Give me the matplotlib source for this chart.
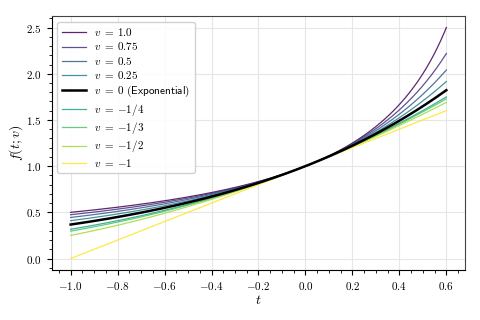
import numpy as np
import matplotlib
matplotlib.use("Agg")
import matplotlib.pyplot as plt
from matplotlib.ticker import AutoMinorLocator, FuncFormatter

plt.rcParams['mathtext.fontset'] = 'cm'
plt.rcParams['font.family'] = 'serif'
plt.rcParams['font.serif'] = ['DejaVu Serif']

# parameters of the deformed exponential family f(t; v) = (1 - v t)^(-1/v)
v_values = [1.0, 0.75, 0.5, 0.25, 0.0, -0.25, -1/3, -0.5, -1.0]
v_labels = [r'$v \;=\; 1.0$', r'$v \;=\; 0.75$', r'$v \;=\; 0.5$', r'$v \;=\; 0.25$',
            r'$v \;=\; 0$ $\mathsf{(Exponential)}$', r'$v \;=\; {-1/4}$', r'$v \;=\; {-1/3}$',
            r'$v \;=\; {-1/2}$', r'$v \;=\; {-1}$']
t_min, t_max = -1.0, 0.6

t = np.linspace(t_min, t_max, 400)

def f(t, v):
    if v == 0:
        return np.exp(t)
    return (1 - v * t) ** (-1.0 / v)

cmap = plt.get_cmap('viridis')
colors = cmap(np.linspace(0, 1, 8))

fig = plt.figure(figsize=(4.8, 3.2), dpi=100)
ax = fig.add_axes([0.108, 0.156, 0.861, 0.794])

ci = 0
for v, lab in zip(v_values, v_labels):
    if v == 0:
        ax.plot(t, f(t, v), color='black', lw=1.8, label=lab, zorder=3)
    else:
        ax.plot(t, f(t, v), color=colors[ci], lw=0.9, alpha=0.85, label=lab)
        ci += 1

ax.set_xlabel(r'$t$', fontsize=10, labelpad=1)
ax.set_ylabel(r'$f(t;v)$', fontsize=10, labelpad=1)
ax.xaxis.set_minor_locator(AutoMinorLocator())
ax.yaxis.set_minor_locator(AutoMinorLocator())
ax.tick_params(which='both', direction='out', labelsize=8)
ax.tick_params(which='major', length=3.5)
ax.tick_params(which='minor', length=2)
ax.grid(True, color='#e6e6e6', lw=0.8)
ax.set_axisbelow(True)
ax.xaxis.set_major_formatter(FuncFormatter(lambda x, p: r'$%.1f$' % x))
ax.yaxis.set_major_formatter(FuncFormatter(lambda x, p: r'$%.1f$' % x))
for s in ['top', 'right']:
    ax.spines[s].set_color('#444444')

leg = ax.legend(loc='upper left', fontsize=8, frameon=True, fancybox=True,
                framealpha=0.9, edgecolor='#cccccc', handlelength=2.2,
                labelspacing=0.22, borderpad=0.4, handletextpad=0.7)

fig.savefig('out.png', dpi=100)
